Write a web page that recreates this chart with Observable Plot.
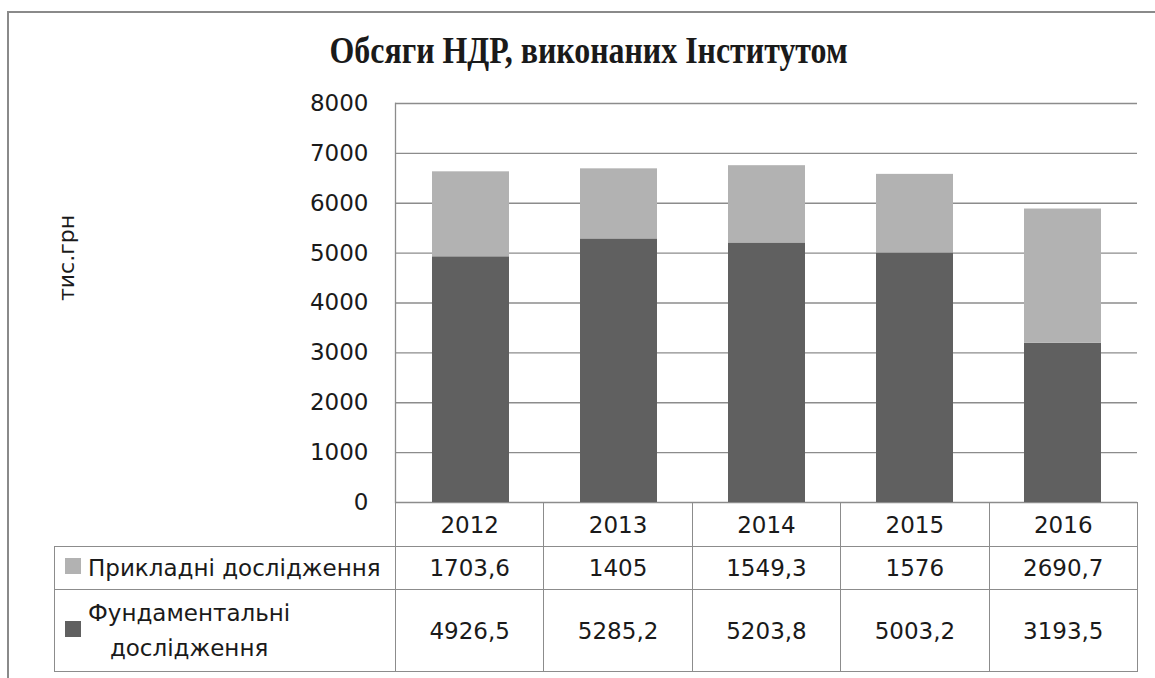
<!DOCTYPE html>
<html><head><meta charset="utf-8">
<script src="https://cdn.jsdelivr.net/npm/d3@7"></script>
<script src="https://cdn.jsdelivr.net/npm/@observablehq/plot@0.6"></script>
<style>
html,body{margin:0;overflow:hidden;}
body{background:#fff;font-family:"DejaVu Sans",sans-serif;color:#1a1a1a;}
#wrap{position:relative;width:1155px;height:678px;overflow:hidden;background:#fff;}
#frame{position:absolute;left:7px;top:11px;width:1300px;height:800px;border-top:2px solid #8a8a8a;border-left:2px solid #8a8a8a;}
#title{position:absolute;left:0;width:1178px;top:31px;text-align:center;font-family:"Liberation Serif",serif;font-weight:bold;font-size:37px;line-height:40px;white-space:nowrap;}
#title span{display:inline-block;transform-origin:center;}
#ylab{position:absolute;left:66px;top:258px;transform:translate(-50%,-50%) rotate(-90deg);font-size:22px;white-space:nowrap;}
#chart{position:absolute;left:0;top:0;}
#tbl{position:absolute;left:54px;top:502px;border-collapse:collapse;table-layout:fixed;font-size:23px;}
#tbl td{border:1px solid #8c8c8c;text-align:center;vertical-align:middle;padding:0;white-space:nowrap;}
#tbl td.blank{border:none;border-right:1px solid #8c8c8c;}
#tbl td.lab{text-align:left;padding-left:10px;}
.sw{display:inline-block;width:16px;height:16px;margin-right:7px;vertical-align:middle;position:relative;top:-2px;}
.lbl{display:inline-block;text-align:center;vertical-align:middle;line-height:35px;}
</style></head>
<body>
<div id="wrap">
  <div id="frame"></div>
  <div id="title"><span>Обсяги НДР, виконаних Інститутом</span></div>
  <div id="ylab">тис.грн</div>
  <div id="chart"></div>
  <table id="tbl"></table>
</div>
<script>
const years = ["2012", "2013", "2014", "2015", "2016"];
const applied = [1703.6, 1405, 1549.3, 1576, 2690.7];
const fundamental = [4926.5, 5285.2, 5203.8, 5003.2, 3193.5];
const seriesNames = ["Прикладні дослідження", "Фундаментальні дослідження"];
const seriesColors = ["#b2b2b2", "#606060"];
const yTicks = [0, 1000, 2000, 3000, 4000, 5000, 6000, 7000, 8000];

const data = [];
years.forEach((yr, i) => data.push({year: yr, series: seriesNames[1], value: fundamental[i]}));
years.forEach((yr, i) => data.push({year: yr, series: seriesNames[0], value: applied[i]}));

const chart = Plot.plot({
  width: 1155,
  height: 520,
  marginLeft: 395,
  marginRight: 18,
  marginTop: 103,
  marginBottom: 18,
  style: {fontSize: "23px", fontFamily: "DejaVu Sans", color: "#1a1a1a", background: "transparent", overflow: "visible"},
  x: {domain: years, paddingInner: 0.48, paddingOuter: 0.24, axis: null},
  y: {domain: [0, 8000], axis: null},
  color: {domain: seriesNames, range: seriesColors},
  marks: [
    Plot.ruleY(yTicks, {stroke: "#8c8c8c", strokeWidth: 1.3}),
    Plot.barY(data, {x: "year", y: "value", fill: "series", order: null}),
    Plot.frame({anchor: "left", stroke: "#8c8c8c", strokeWidth: 1.3}),
    Plot.axisY({ticks: yTicks, tickSize: 0, tickPadding: 27, tickFormat: d3.format("d"), label: null})
  ]
});
document.getElementById("chart").appendChild(chart);

// title horizontal condensation to match reference width
const tspan = document.querySelector("#title span");
tspan.style.transform = `scaleX(${518 / tspan.offsetWidth})`;

// data table
const fmt = v => String(v).replace(".", ",");
const tbl = document.getElementById("tbl");
const cg = document.createElement("colgroup");
[341, ...years.map(() => 148.4)].forEach(w => { const c = document.createElement("col"); c.style.width = w + "px"; cg.appendChild(c); });
tbl.appendChild(cg);
const hr = tbl.insertRow(); hr.style.height = "44px";
const b = hr.insertCell(); b.className = "blank";
years.forEach(y => { hr.insertCell().textContent = y; });
const rows = [
  {html: "Прикладні дослідження", color: seriesColors[0], vals: applied, h: 43},
  {html: "Фундаментальні<br>дослідження", color: seriesColors[1], vals: fundamental, h: 82}
];
rows.forEach(r => {
  const tr = tbl.insertRow(); tr.style.height = r.h + "px";
  const lc = tr.insertCell(); lc.className = "lab";
  lc.innerHTML = `<span class="sw" style="background:${r.color}"></span><span class="lbl">${r.html}</span>`;
  r.vals.forEach(v => { tr.insertCell().textContent = fmt(v); });
});
</script>
</body></html>
